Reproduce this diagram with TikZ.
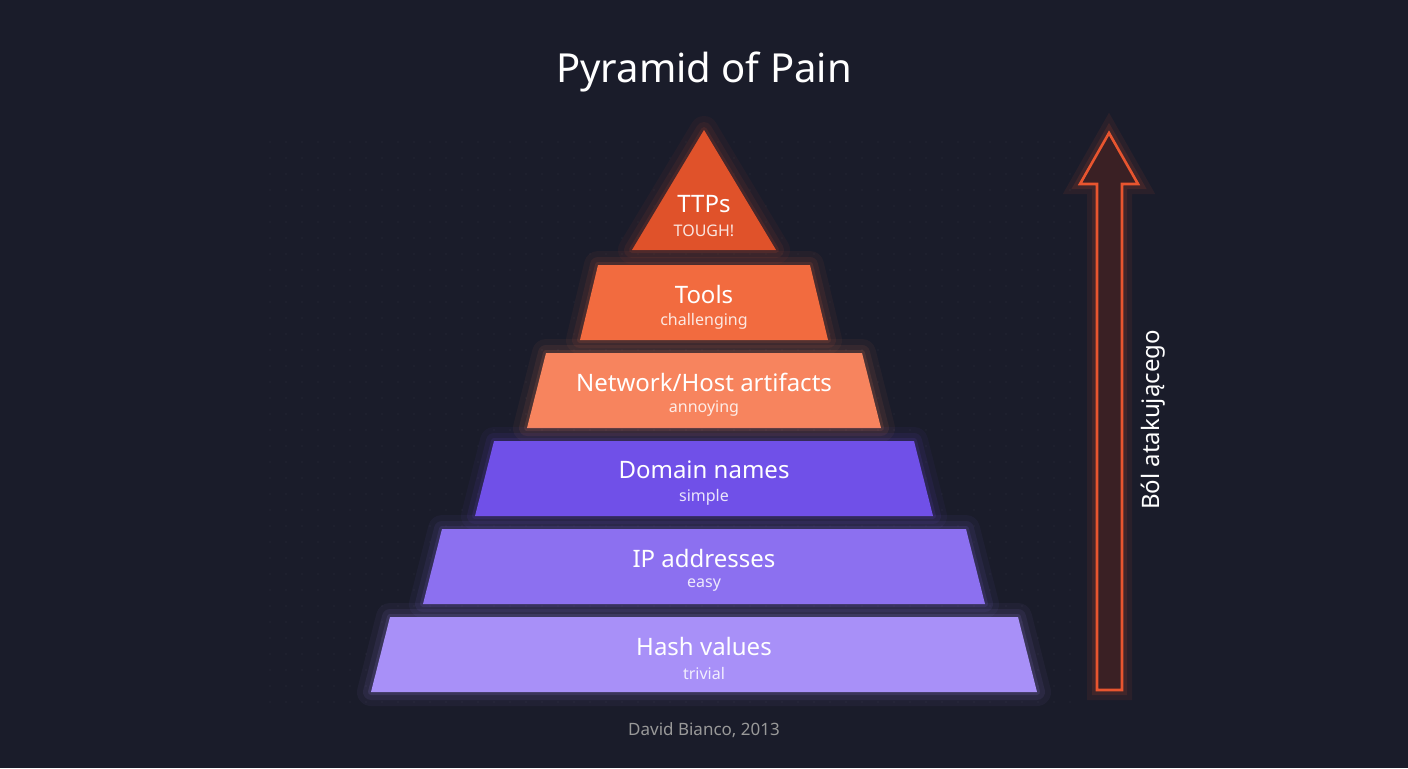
\documentclass[tikz,border=0pt]{standalone}
\usepackage{fontspec}
\setmainfont{Noto Sans}
\usetikzlibrary{positioning}
\definecolor{bg}{HTML}{1A1C2A}
\definecolor{ttps}{HTML}{E0522A}
\definecolor{tools}{HTML}{F26B3F}
\definecolor{netw}{HTML}{F7845E}
\definecolor{dom}{HTML}{7050E8}
\definecolor{ipa}{HTML}{8C70F0}
\definecolor{hash}{HTML}{A890F8}
\definecolor{pain}{HTML}{E8552F}
\definecolor{painfill}{HTML}{3A2024}
\tikzset{
  layername/.style={text=white, font=\bfseries\fontsize{12}{14}\selectfont},
  layerhint/.style={text=white, opacity=0.85, font=\fontsize{8}{10}\selectfont},
}
\begin{document}
\begin{tikzpicture}[x=0.5pt, y=-0.5pt]
  % background
  \fill[bg] (0,0) rectangle (1408,768);
  \useasboundingbox (0,0) rectangle (1408,768);
  % dot grid
  \foreach \gx in {270,286,...,1070}
    \foreach \gy in {142,158,...,710}
      \fill[white, opacity=0.08] (\gx,\gy) circle (0.6);
  % title
  \node[text=white, font=\bfseries\fontsize{20}{24}\selectfont] (title) at (704,72) {Pyramid of Pain};
  % layers: top y, bottom y, top half width, bottom half width, colour, name, hint
  \foreach \ty/\by/\tw/\bw/\col/\lab/\sub [count=\i] in {
      130/250/0/72/ttps/TTPs/TOUGH!,
      265/340/106/124/tools/Tools/challenging,
      353/428/158/177/netw/Network\slash Host artifacts/annoying,
      441/516/210/229/dom/Domain names/simple,
      529/604/262/281/ipa/IP addresses/easy,
      617/692/314/333/hash/Hash values/trivial}
  {
    \foreach \gw/\op in {14/0.05, 8/0.08, 3/0.12}
      \draw[\col, line width=\gw, opacity=\op, line join=round]
        (704-\tw,\ty) -- (704+\tw,\ty) -- (704+\bw,\by) -- (704-\bw,\by) -- cycle;
    \fill[\col] (704-\tw,\ty) -- (704+\tw,\ty) -- (704+\bw,\by) -- (704-\bw,\by) -- cycle;
    \node[layername] (layer_\i) at (704,\by-46) {\lab};
    \node[layerhint] (hint_\i) at (704,\by-19) {\sub};
  }
  % pain arrow
  \coordinate (foot) at (1109,690);
  \coordinate (tip) at (1109,133);
  \foreach \gw/\op in {10/0.08, 5/0.12}
    \draw[pain, line width=\gw, opacity=\op, line join=miter]
      (1097,690) -- (1097,184) -- (1080,184) -- (tip) -- (1138,184) -- (1122,184) -- (1122,690) -- cycle;
  \draw[pain, fill=painfill, line width=1.3pt, line join=miter]
    (1097,690) -- (1097,184) -- (1080,184) -- (tip) -- (1138,184) -- (1122,184) -- (1122,690) -- cycle;
  \node[text=white, rotate=90, font=\bfseries\fontsize{12}{14}\selectfont] (pain_label) at (1153,420) {Ból atakującego};
  % source
  \node[text=gray!80, font=\fontsize{8.5}{10}\selectfont] (source) at (704,730) {David Bianco, 2013};
\end{tikzpicture}
\end{document}
